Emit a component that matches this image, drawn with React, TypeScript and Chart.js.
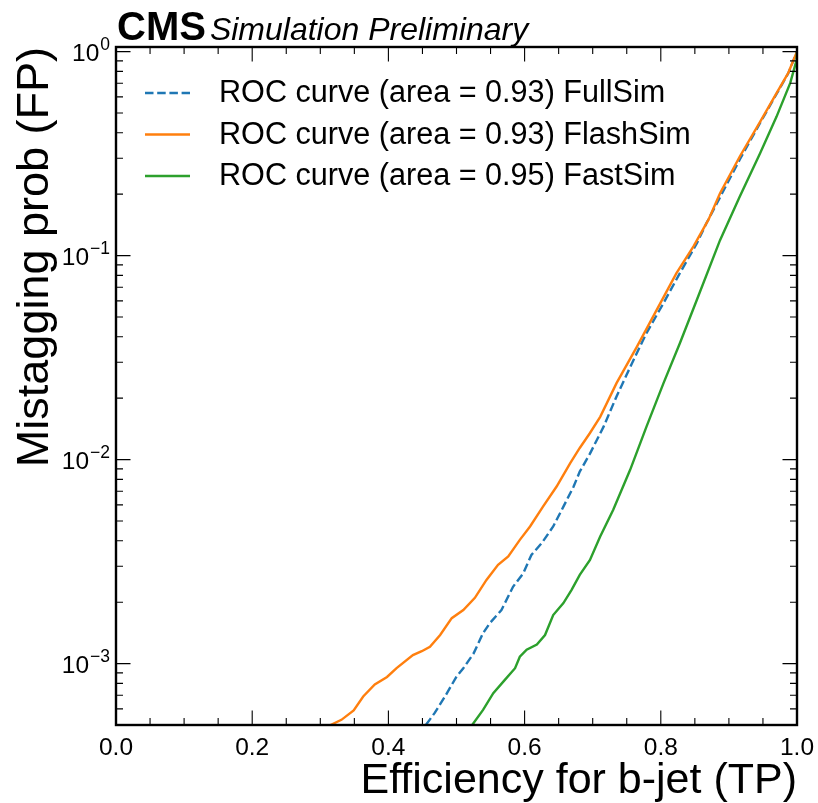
import React, { useEffect, useRef } from "react";
import { Chart, registerables } from "chart.js";

Chart.register(...registerables);

// ---- data ----
const fullSimX = [0.455, 0.468, 0.483, 0.5, 0.51, 0.525, 0.539, 0.549, 0.566, 0.583, 0.598, 0.61, 0.625, 0.642, 0.657, 0.672, 0.681, 0.696, 0.716, 0.735, 0.76, 0.779, 0.804, 0.828, 0.853, 0.867, 0.916, 0.946, 0.97, 0.987, 1.0];
const fullSimY = [5.0e-4, 5.73e-4, 6.89e-4, 8.63e-4, 9.49e-4, 1.12e-3, 1.41e-3, 1.58e-3, 1.83e-3, 2.38e-3, 2.77e-3, 3.41e-3, 3.89e-3, 4.7e-3, 5.88e-3, 7.38e-3, 8.73e-3, 1.07e-2, 1.45e-2, 2.04e-2, 3.08e-2, 4.17e-2, 5.85e-2, 8.2e-2, 0.115, 0.144, 0.296, 0.448, 0.62, 0.78, 1.0];

const flashSimX = [0.315, 0.331, 0.349, 0.363, 0.38, 0.398, 0.412, 0.436, 0.449, 0.461, 0.476, 0.493, 0.51, 0.527, 0.544, 0.561, 0.576, 0.593, 0.608, 0.627, 0.647, 0.667, 0.681, 0.696, 0.711, 0.735, 0.765, 0.794, 0.823, 0.848, 0.87, 0.887, 0.916, 0.946, 0.97, 0.987, 1.0];
const flashSimY = [5.0e-4, 5.3e-4, 5.9e-4, 6.9e-4, 7.9e-4, 8.6e-4, 9.5e-4, 1.1e-3, 1.15e-3, 1.21e-3, 1.38e-3, 1.67e-3, 1.83e-3, 2.1e-3, 2.57e-3, 3.05e-3, 3.35e-3, 4.04e-3, 4.7e-3, 5.88e-3, 7.38e-3, 9.6e-3, 1.14e-2, 1.35e-2, 1.62e-2, 2.37e-2, 3.58e-2, 5.42e-2, 8.2e-2, 0.111, 0.15, 0.202, 0.306, 0.454, 0.625, 0.784, 1.0];

const fastSimX = [0.523, 0.539, 0.554, 0.571, 0.586, 0.593, 0.603, 0.618, 0.63, 0.642, 0.657, 0.669, 0.681, 0.696, 0.711, 0.73, 0.755, 0.779, 0.804, 0.828, 0.853, 0.887, 0.916, 0.946, 0.97, 0.99, 0.9995, 1.0];
const fastSimY = [5.0e-4, 5.93e-4, 7.16e-4, 8.32e-4, 9.49e-4, 1.08e-3, 1.17e-3, 1.24e-3, 1.38e-3, 1.73e-3, 1.98e-3, 2.3e-3, 2.72e-3, 3.22e-3, 4.2e-3, 5.66e-3, 8.91e-3, 1.45e-2, 2.37e-2, 3.72e-2, 6.07e-2, 0.119, 0.195, 0.318, 0.48, 0.7, 0.91, 1.0];

const seriesLabels = [
  "ROC curve (area = 0.93) FullSim",
  "ROC curve (area = 0.93) FlashSim",
  "ROC curve (area = 0.95) FastSim",
];

const xTickValues = [0, 0.2, 0.4, 0.6, 0.8, 1.0];
const xTickLabels = ["0.0", "0.2", "0.4", "0.6", "0.8", "1.0"];
const yTickValues = [1e-3, 1e-2, 1e-1, 1];
const yTickBases = ["10", "10", "10", "10"];
const yTickExponents = ["\u22123", "\u22122", "\u22121", "0"];

const X_MIN = 0;
const X_MAX = 1;
const Y_MIN = 5e-4;
const Y_MAX = 1.053;

const FONT = "'Liberation Sans', Arial, Helvetica, 'DejaVu Sans', sans-serif";

const toPoints = (xs: number[], ys: number[]) => xs.map((x, i) => ({ x, y: ys[i] }));

// all tick positions (major + minor) for the log axis
function logTicks(min: number, max: number) {
  const out: { v: number; major: boolean }[] = [];
  for (let e = Math.floor(Math.log10(min)); e <= Math.ceil(Math.log10(max)); e++) {
    for (let m = 1; m <= 9; m++) {
      const v = m * Math.pow(10, e);
      if (v >= min * 0.999 && v <= max * 1.001) out.push({ v, major: m === 1 });
    }
  }
  return out;
}

const framePlugin = {
  id: "framePlugin",
  afterDatasetsDraw(chart: any) {
    const { ctx, chartArea, scales } = chart;
    const { left, right, top, bottom } = chartArea;
    ctx.save();
    ctx.strokeStyle = "#000";
    // ticks (inward, all four sides)
    ctx.lineWidth = 1.1;
    const majL = 14.5;
    const minL = 7;
    const xs = scales.x;
    const xVals: { v: number; major: boolean }[] = [];
    for (let i = 0; i < xTickValues.length; i++) {
      xVals.push({ v: xTickValues[i], major: true });
      if (i < xTickValues.length - 1) {
        const step = (xTickValues[i + 1] - xTickValues[i]) / 4;
        for (let k = 1; k < 4; k++) xVals.push({ v: xTickValues[i] + k * step, major: false });
      }
    }
    ctx.beginPath();
    for (const t of xVals) {
      const px = xs.getPixelForValue(t.v);
      const L = t.major ? majL : minL;
      ctx.moveTo(px, bottom);
      ctx.lineTo(px, bottom - L);
      ctx.moveTo(px, top);
      ctx.lineTo(px, top + L);
    }
    const ys = scales.y;
    for (const t of logTicks(Y_MIN, Y_MAX)) {
      const py = ys.getPixelForValue(t.v);
      const L = t.major ? majL : minL;
      ctx.moveTo(left, py);
      ctx.lineTo(left + L, py);
      ctx.moveTo(right, py);
      ctx.lineTo(right - L, py);
    }
    ctx.stroke();
    // frame
    ctx.lineWidth = 2.4;
    ctx.strokeRect(left, top, right - left, bottom - top);

    // y tick labels with superscript exponents
    ctx.fillStyle = "#000";
    ctx.textBaseline = "alphabetic";
    ctx.textAlign = "left";
    yTickValues.forEach((v, i) => {
      const py = ys.getPixelForValue(v);
      ctx.font = `17.5px ${FONT}`;
      const ew = ctx.measureText(yTickExponents[i]).width;
      ctx.font = `24.5px ${FONT}`;
      const bw = ctx.measureText(yTickBases[i]).width;
      const xEnd = left - 6;
      const bx = xEnd - ew - bw - 1;
      ctx.fillText(yTickBases[i], bx, py + 9);
      ctx.font = `17.5px ${FONT}`;
      ctx.fillText(yTickExponents[i], bx + bw + 1, py - 2);
    });

    // legend
    const rowsY = [93, 134.5, 176];
    const hx0 = 145;
    const hx1 = 190;
    const tx = 219;
    chart.data.datasets.forEach((ds: any, i: number) => {
      const y = rowsY[i];
      ctx.save();
      ctx.strokeStyle = ds.borderColor;
      ctx.lineWidth = ds.borderWidth;
      ctx.setLineDash(ds.borderDash || []);
      ctx.beginPath();
      ctx.moveTo(hx0, y);
      ctx.lineTo(hx1, y);
      ctx.stroke();
      ctx.restore();
      ctx.fillStyle = "#000";
      ctx.font = `30.6px ${FONT}`;
      ctx.textBaseline = "middle";
      ctx.textAlign = "left";
      ctx.fillText(ds.label, tx, y + 1);
    });

    // CMS header
    ctx.fillStyle = "#000";
    ctx.textBaseline = "alphabetic";
    ctx.textAlign = "left";
    ctx.font = `bold 40px ${FONT}`;
    ctx.fillText("CMS", 117, 40);
    const w = ctx.measureText("CMS").width;
    ctx.font = `italic 32px ${FONT}`;
    ctx.fillText("Simulation Preliminary", 117 + w + 4, 40);
    ctx.restore();
  },
};

export default function App() {
  const ref = useRef<HTMLCanvasElement | null>(null);
  useEffect(() => {
    if (!ref.current) return;
    const chart = new Chart(ref.current, {
      type: "line",
      data: {
        datasets: [
          {
            label: seriesLabels[0],
            data: toPoints(fullSimX, fullSimY),
            borderColor: "#1f77b4",
            borderWidth: 2.4,
            borderDash: [8.5, 3.7],
            pointRadius: 0,
            tension: 0,
            fill: false,
            order: 3,
          },
          {
            label: seriesLabels[1],
            data: toPoints(flashSimX, flashSimY),
            borderColor: "#ff7f0e",
            borderWidth: 2.4,
            pointRadius: 0,
            tension: 0,
            fill: false,
            order: 2,
          },
          {
            label: seriesLabels[2],
            data: toPoints(fastSimX, fastSimY),
            borderColor: "#2ca02c",
            borderWidth: 2.4,
            pointRadius: 0,
            tension: 0,
            fill: false,
            order: 1,
          },
        ],
      },
      options: {
        animation: false,
        responsive: false,
        maintainAspectRatio: false,
        layout: { padding: { top: 47, right: 21, left: 0, bottom: 0 } },
        plugins: {
          legend: { display: false },
          tooltip: { enabled: false },
          title: { display: false },
        },
        scales: {
          x: {
            type: "linear",
            min: X_MIN,
            max: X_MAX,
            grid: { display: false, drawTicks: false },
            border: { display: false },
            afterBuildTicks: (s: any) => {
              s.ticks = xTickValues.map((v) => ({ value: v }));
            },
            afterFit: (s: any) => {
              s.height = 78;
              s.paddingLeft = 0;
              s.paddingRight = 0;
            },
            ticks: {
              autoSkip: false,
              maxRotation: 0,
              padding: 9,
              color: "#000",
              font: { family: FONT, size: 24.5 },
              callback: (v: any) => {
                const i = xTickValues.findIndex((t) => Math.abs(t - v) < 1e-9);
                return i >= 0 ? xTickLabels[i] : "";
              },
            },
            title: {
              display: true,
              text: "Efficiency for b-jet (TP)",
              align: "end",
              color: "#000",
              font: { family: FONT, size: 43 },
              padding: { top: 0, bottom: -4 },
            },
          },
          y: {
            type: "logarithmic",
            min: Y_MIN,
            max: Y_MAX,
            grid: { display: false, drawTicks: false },
            border: { display: false },
            afterBuildTicks: (s: any) => {
              s.ticks = yTickValues.map((v) => ({ value: v }));
            },
            afterFit: (s: any) => {
              s.width = 116;
              s.paddingTop = 0;
              s.paddingBottom = 0;
            },
            ticks: {
              display: false,
            },
            title: {
              display: true,
              text: "Mistagging prob (FP)",
              align: "end",
              color: "#000",
              font: { family: FONT, size: 45 },
              padding: { top: 9, bottom: 0 },
            },
          },
        },
      },
      plugins: [framePlugin],
    } as any);
    return () => chart.destroy();
  }, []);
  return (
    <div style={{ position: "fixed", left: 0, top: 0, width: 818, height: 803, background: "#fff" }}>
      <canvas ref={ref} width={818} height={803} style={{ display: "block", width: 818, height: 803 }} />
    </div>
  );
}
